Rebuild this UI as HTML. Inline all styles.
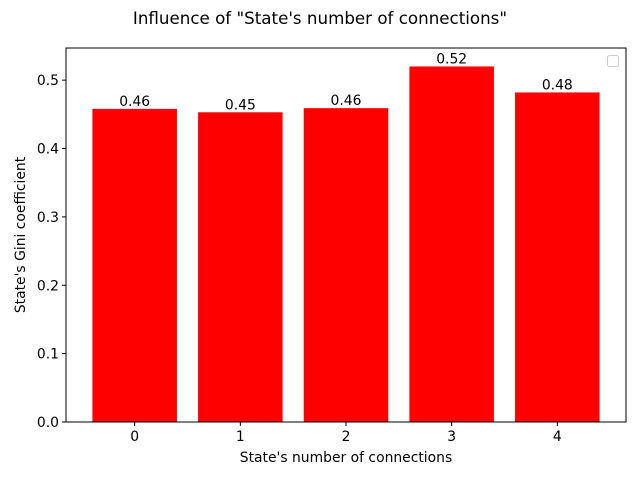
<!DOCTYPE html>
<html><head><meta charset="utf-8"><style>
body{margin:0;background:#fff;}
svg text{font-family:"DejaVu Sans","Liberation Sans",sans-serif;}
</style></head><body>
<svg id="chart" width="640" height="480" xmlns="http://www.w3.org/2000/svg">
<text x="320" y="24" font-size="16.7" text-anchor="middle">Influence of "State's number of connections"</text>
<g id="bars"></g>
<g id="ticks"></g>
<rect x="66" y="48" width="560" height="374" fill="none" stroke="#000" stroke-width="1"/>
<rect x="607.5" y="55.5" width="11" height="11" rx="2" fill="#fff" stroke="#ccc"/>
<text x="346" y="462" font-size="13.9" text-anchor="middle">State's number of connections</text>
<text transform="translate(25,235) rotate(-90)" font-size="13.9" text-anchor="middle">State's Gini coefficient</text>
</svg>
<script>
const categories = ["0","1","2","3","4"];
const values = [0.458, 0.453, 0.459, 0.520, 0.482];
const labels = ["0.46","0.45","0.46","0.52","0.48"];
const yTicks = [0.0,0.1,0.2,0.3,0.4,0.5];
const yTickLabels = ["0.0","0.1","0.2","0.3","0.4","0.5"];

const L=66,R=626,T=48,B=422;
const xmin=-0.65,xmax=categories.length-1+0.65,ymax=0.547;
const xs=i=>L+(i-xmin)/(xmax-xmin)*(R-L);
const ys=v=>B-v/ymax*(B-T);
const ns="http://www.w3.org/2000/svg";
const bars=document.getElementById('bars'),ticks=document.getElementById('ticks');
function mk(t,a,p){const e=document.createElementNS(ns,t);for(const k in a)e.setAttribute(k,a[k]);p.appendChild(e);return e;}
const bw=0.8*(R-L)/(xmax-xmin);
values.forEach((v,i)=>{
  const r=mk('rect',{x:xs(i)-bw/2,y:ys(v),width:bw,height:B-ys(v),fill:'#ff0000'},bars);
  
  
  const t=mk('text',{x:xs(i),y:ys(v)-3,'font-size':13.9,'text-anchor':'middle'},bars);
  t.textContent=labels[i];
  
  
  mk('line',{x1:xs(i),x2:xs(i),y1:B,y2:B+4,stroke:'#000'},ticks);
  const tl=mk('text',{x:xs(i),y:B+19,'font-size':13.9,'text-anchor':'middle'},ticks);
  tl.textContent=categories[i];
  
  
});
yTicks.forEach((v,i)=>{
  mk('line',{x1:L-4,x2:L,y1:ys(v),y2:ys(v),stroke:'#000'},ticks);
  const tl=mk('text',{x:L-7,y:ys(v)+5,'font-size':13.9,'text-anchor':'end'},ticks);
  tl.textContent=yTickLabels[i];
  
  
});
</script>
</body></html>
